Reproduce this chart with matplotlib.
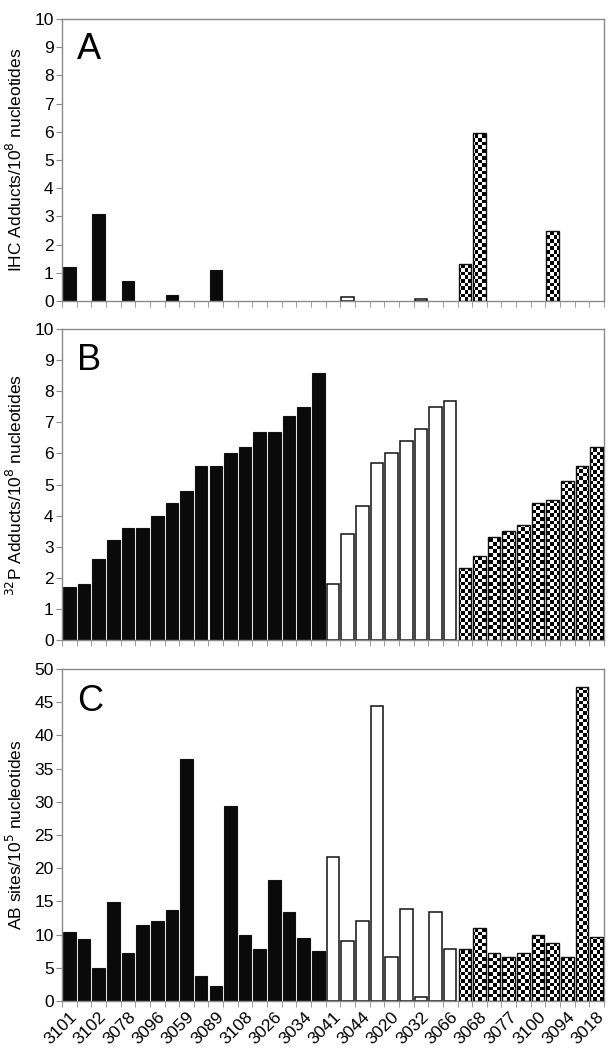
import numpy as np
import matplotlib
matplotlib.use("Agg")
import matplotlib.pyplot as plt

plt.rcParams['font.family'] = ['Liberation Sans', 'DejaVu Sans']

# ---- data ----
tick_labels = ["3101", "3102", "3078", "3096", "3059", "3089", "3108", "3026", "3034",
               "3041", "3044", "3020", "3032", "3066", "3068", "3077", "3100", "3094", "3018"]
n_black, n_white, n_check = 18, 9, 10

ihc_black = [1.2, 0, 3.1, 0, 0.7, 0, 0, 0.2, 0, 0, 1.1, 0, 0, 0, 0, 0, 0, 0]
ihc_white = [0, 0.15, 0, 0, 0, 0, 0.08, 0, 0]
ihc_check = [1.3, 5.95, 0, 0, 0, 0, 2.5, 0, 0, 0]

p32_black = [1.7, 1.8, 2.6, 3.2, 3.6, 3.6, 4.0, 4.4, 4.8, 5.6, 5.6, 6.0, 6.2, 6.7, 6.7, 7.2, 7.5, 8.6]
p32_white = [1.8, 3.4, 4.3, 5.7, 6.0, 6.4, 6.8, 7.5, 7.7]
p32_check = [2.3, 2.7, 3.3, 3.5, 3.7, 4.4, 4.5, 5.1, 5.6, 6.2]

ab_black = [10.4, 9.3, 5.0, 14.9, 7.2, 11.4, 12.0, 13.7, 36.5, 3.8, 2.2, 29.3, 9.95, 7.8, 18.2, 13.4, 9.5, 7.6]
ab_white = [21.7, 9.0, 12.1, 44.5, 6.6, 13.8, 0.55, 13.4, 7.9]
ab_check = [7.9, 11.0, 7.2, 6.6, 7.3, 9.9, 8.8, 6.6, 47.3, 9.6]

panels = [
    ("A", r"IHC Adducts/10$^{8}$ nucleotides", ihc_black, ihc_white, ihc_check, 10, 1),
    ("B", r"$^{32}$P Adducts/10$^{8}$ nucleotides", p32_black, p32_white, p32_check, 10, 1),
    ("C", r"AB sites/10$^{5}$ nucleotides", ab_black, ab_white, ab_check, 50, 5),
]

W, H = 613, 1050
fig = plt.figure(figsize=(W / 100, H / 100), dpi=100)

left = 62 / W
width = 542 / W
boxes = [(19, 301), (329, 640), (669, 1001)]

n_total = n_black + n_white + n_check
xb = np.arange(0, n_black)
xw = np.arange(n_black, n_black + n_white)
xc = np.arange(n_black + n_white, n_total)
bw = 0.86
spine_col = "#8a8a8a"
cell_px = 3.6


def edges(vals, col="#111111"):
    return [col if v > 0 else "none" for v in vals]


for i, (letter, ylabel, vb, vw, vc, ymax, ystep) in enumerate(panels):
    top, bot = boxes[i]
    ax = fig.add_axes([left, 1 - bot / H, width, (bot - top) / H])
    ax.set_xlim(-0.5, n_total - 0.5)
    ax.set_ylim(0, ymax)

    ax.bar(xb, vb, width=bw, color="#0a0a0a", edgecolor=edges(vb), linewidth=0.8, zorder=2)
    ax.bar(xw, vw, width=bw, color="white", edgecolor=edges(vw), linewidth=1.1, zorder=2)
    cbars = ax.bar(xc, vc, width=bw, facecolor="none", edgecolor=edges(vc), linewidth=1.0, zorder=3)

    # checkerboard fill clipped to each checkered bar
    ph = bot - top
    nx = int(round(542 / cell_px))
    ny = int(round(ph / cell_px))
    checker = (np.add.outer(np.arange(ny), np.arange(nx)) % 2).astype(float)
    for b, v in zip(cbars, vc):
        if v <= 0:
            continue
        im = ax.imshow(checker, cmap="gray", vmin=0, vmax=1, interpolation="nearest",
                       extent=(-0.5, n_total - 0.5, 0, ymax), aspect="auto", zorder=2.5,
                       origin="lower")
        im.set_clip_path(b)
    ax.set_xlim(-0.5, n_total - 0.5)
    ax.set_ylim(0, ymax)

    for s in ax.spines.values():
        s.set_color(spine_col)
        s.set_linewidth(1.0)

    ax.set_yticks(np.arange(0, ymax + 0.01, ystep))
    ax.tick_params(axis="y", direction="out", length=4, color=spine_col, labelsize=12.5, pad=2)
    # boundary ticks
    ax.set_xticks(np.arange(-0.5, n_total, 1.0), minor=True)
    ax.tick_params(axis="x", which="minor", direction="out", length=4, color=spine_col)
    ax.set_xticks(np.arange(0, n_total, 2))
    if i == 2:
        ax.set_xticklabels(tick_labels, rotation=45, ha="right", rotation_mode="anchor",
                           fontsize=12.5)
        ax.tick_params(axis="x", which="major", length=0, pad=6)
    else:
        ax.set_xticklabels([])
        ax.tick_params(axis="x", which="major", length=0)

    ax.set_ylabel(ylabel, fontsize=12.5)
    ax.yaxis.set_label_coords(-0.068, 0.5)
    ax.text(0.028, 0.955, letter, transform=ax.transAxes, fontsize=26, va="top", ha="left")

fig.savefig("out.png", dpi=100)
